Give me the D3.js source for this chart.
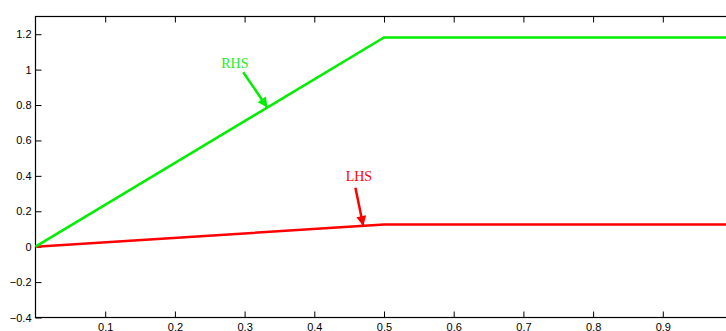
<!DOCTYPE html>
<html>
  <head>
    <meta charset="utf-8">
    <title>LHS / RHS</title>
    <script src="https://cdn.jsdelivr.net/npm/d3@7"></script>
    <style type="text/css">

html, body {
  margin: 0;
  background: #fff;
}

svg {
  display: block;
  font: 11px "Liberation Sans", Arial, Helvetica, sans-serif;
}

.note {
  font-family: "Liberation Serif", "Times New Roman", serif;
  font-size: 14px;
}

    </style>
  </head>
  <body>
    <script type="text/javascript">

// curve samples
var xs  = [0, 0.5, 1];
var rhs = [0, 1.182, 1.182];
var lhs = [0, 0.125, 0.125];

var xTicks = [0.1, 0.2, 0.3, 0.4, 0.5, 0.6, 0.7, 0.8, 0.9];
var yTicks = [-0.4, -0.2, 0, 0.2, 0.4, 0.6, 0.8, 1, 1.2];

// annotations: label position, arrow tail, arrow tip (data units)
var notes = [
  {text: "RHS", color: "#00ee00", tcolor: "#22ee22", lx: 0.286, ly: 1.009, x0: 0.298, y0: 0.985, x1: 0.332, y1: 0.79},
  {text: "LHS", color: "#ff0000", tcolor: "#ff0000", lx: 0.464, ly: 0.371, x0: 0.459, y0: 0.333, x1: 0.47,  y1: 0.122}
];

var width = 726, height = 331;

var x = d3.scaleLinear().domain([0, 1]).range([35.5, 732.5]);
var y = d3.scaleLinear().domain([-0.4, 1.3]).range([317.5, 16.5]);

var svg = d3.select("body")
  .append("svg")
    .attr("width", width)
    .attr("height", height);

svg.append("defs").selectAll("marker")
    .data(notes)
  .enter().append("marker")
    .attr("id", function(d, i) { return "head" + i; })
    .attr("viewBox", "0 0 10 10")
    .attr("refX", 9)
    .attr("refY", 5)
    .attr("markerUnits", "userSpaceOnUse")
    .attr("markerWidth", 12)
    .attr("markerHeight", 10)
    .attr("orient", "auto")
  .append("path")
    .attr("d", "M0,0L10,5L0,10z")
    .attr("fill", function(d) { return d.color; });

// box
svg.append("rect")
    .attr("x", x(0))
    .attr("y", y(1.3))
    .attr("width", x(1) - x(0))
    .attr("height", y(-0.4) - y(1.3))
    .attr("fill", "none")
    .attr("stroke", "#000")
    .attr("stroke-width", 1.2);

var tk = 6;

svg.append("g")
    .attr("transform", "translate(0," + y(-0.4) + ")")
    .call(d3.axisBottom(x).tickValues(xTicks).tickSize(-tk).tickPadding(6)
      .tickFormat(d3.format("")))
    .call(function(g) { g.select(".domain").remove(); });

svg.append("g")
    .attr("transform", "translate(0," + y(1.3) + ")")
    .call(d3.axisTop(x).tickValues(xTicks).tickSize(-tk).tickFormat(""))
    .call(function(g) { g.select(".domain").remove(); });

svg.append("g")
    .attr("transform", "translate(" + x(0) + ",0)")
    .call(d3.axisLeft(y).tickValues(yTicks).tickSize(-tk).tickPadding(4)
      .tickFormat(function(d) { return String(+d.toFixed(1)).replace("-", "\u2212"); }))
    .call(function(g) { g.select(".domain").remove(); });

svg.append("g")
    .attr("transform", "translate(" + x(1) + ",0)")
    .call(d3.axisRight(y).tickValues(yTicks).tickSize(-tk).tickFormat(""))
    .call(function(g) { g.select(".domain").remove(); });

svg.selectAll(".tick text")
    .attr("fill", "#000")
    .style("font-family", "\"Liberation Sans\", Arial, sans-serif")
    .style("font-size", "11px");
svg.selectAll(".tick line").attr("stroke", "#000");

var line = d3.line()
    .x(function(d) { return x(d[0]); })
    .y(function(d) { return y(d[1]); });

svg.append("path")
    .datum(d3.zip(xs, lhs))
    .attr("d", line)
    .attr("fill", "none")
    .attr("stroke", "#ff0000")
    .attr("stroke-width", 2.5);

svg.append("path")
    .datum(d3.zip(xs, rhs))
    .attr("d", line)
    .attr("fill", "none")
    .attr("stroke", "#00ee00")
    .attr("stroke-width", 2.5);

var note = svg.selectAll(".note")
    .data(notes)
  .enter().append("g")
    .attr("class", "note");

note.append("text")
    .attr("x", function(d) { return x(d.lx); })
    .attr("y", function(d) { return y(d.ly); })
    .attr("text-anchor", "middle")
    .attr("fill", function(d) { return d.tcolor; })
    .text(function(d) { return d.text; });

note.append("line")
    .attr("x1", function(d) { return x(d.x0); })
    .attr("y1", function(d) { return y(d.y0); })
    .attr("x2", function(d) { return x(d.x1); })
    .attr("y2", function(d) { return y(d.y1); })
    .attr("stroke", function(d) { return d.color; })
    .attr("stroke-width", 2.5)
    .attr("marker-end", function(d, i) { return "url(#head" + i + ")"; });

    </script>
  </body>
</html>
